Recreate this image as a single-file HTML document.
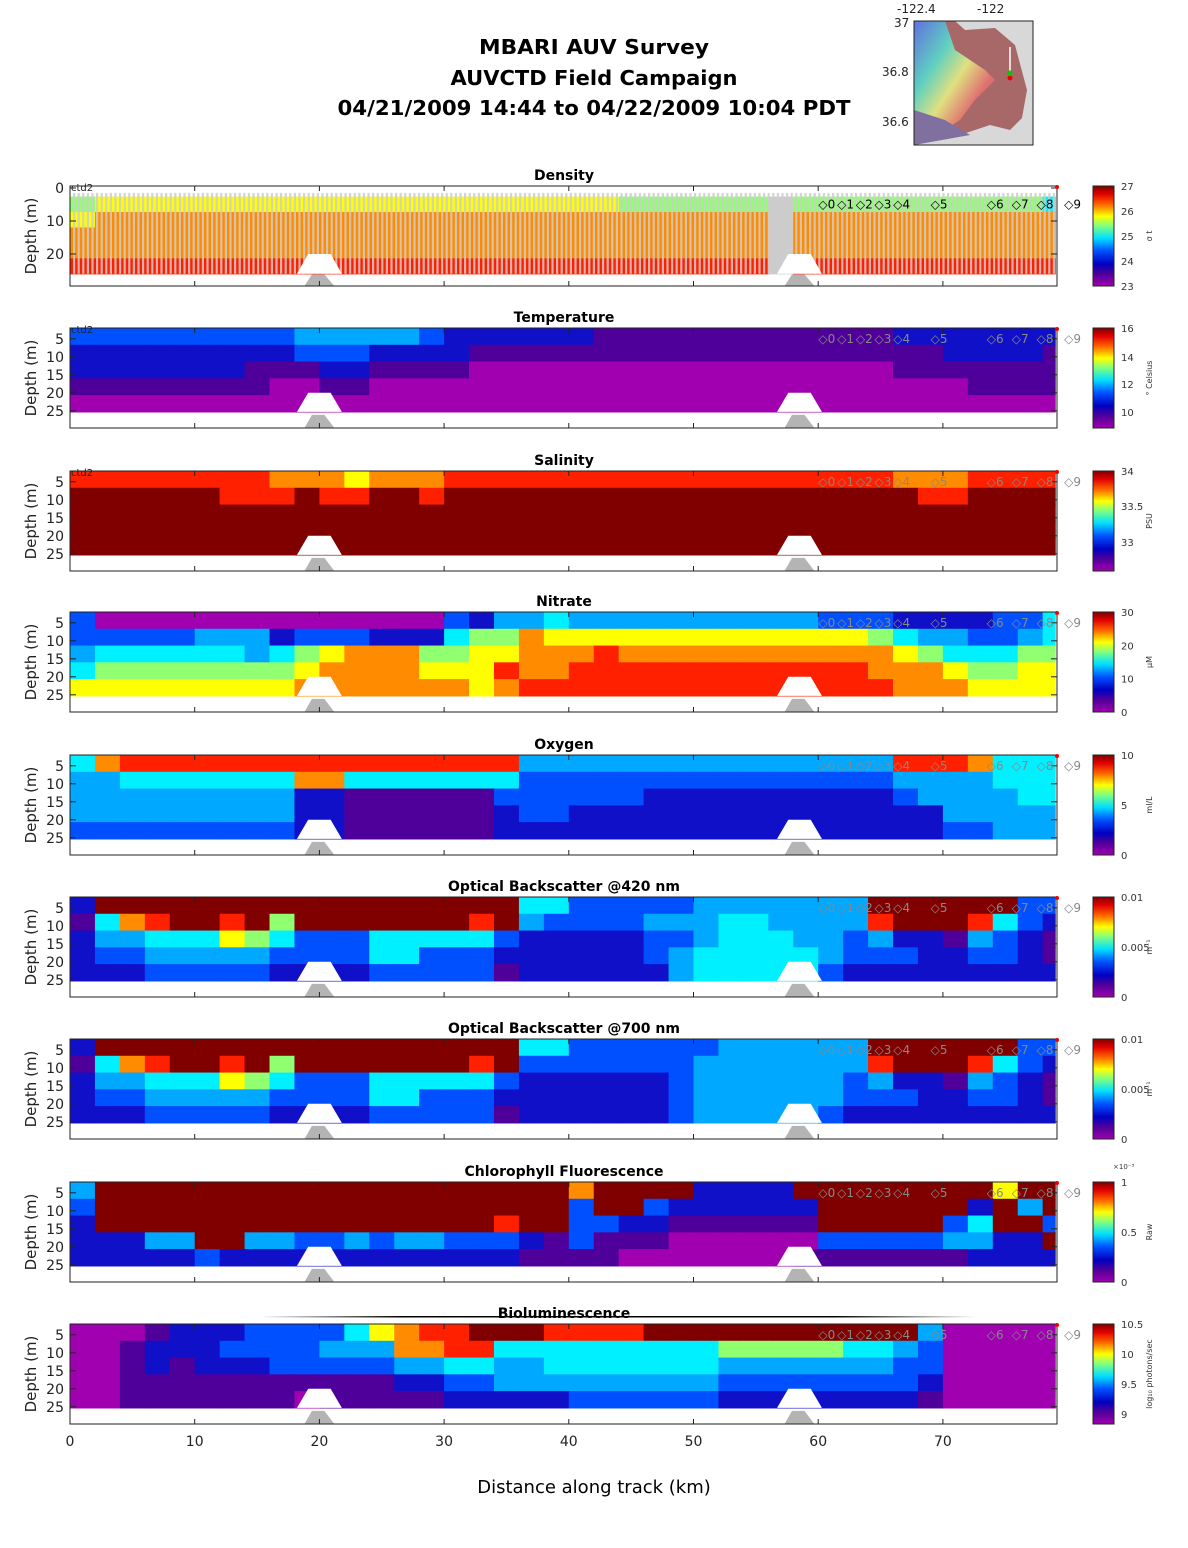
<!DOCTYPE html>
<html><head><meta charset="utf-8"><style>
html,body{margin:0;padding:0;background:#fff}
svg{display:block;font-family:"DejaVu Sans","Liberation Sans",sans-serif}
</style></head><body>
<svg id="s" width="1188" height="1548" viewBox="0 0 1188 1548" xmlns="http://www.w3.org/2000/svg">
<defs>
<linearGradient id="cbar" x1="0" y1="1" x2="0" y2="0">
<stop offset="0" stop-color="#a000b0"/><stop offset="0.12" stop-color="#50009a"/><stop offset="0.22" stop-color="#0000c0"/><stop offset="0.35" stop-color="#0050ff"/><stop offset="0.48" stop-color="#00e0ff"/><stop offset="0.6" stop-color="#80ff80"/><stop offset="0.7" stop-color="#ffff00"/><stop offset="0.82" stop-color="#ff6000"/><stop offset="0.92" stop-color="#e00000"/><stop offset="1" stop-color="#800000"/>
</linearGradient>
<linearGradient id="mapg" x1="0" y1="0" x2="1" y2="1">
<stop offset="0" stop-color="#6070e0"/><stop offset="0.3" stop-color="#60d0c0"/><stop offset="0.5" stop-color="#e0e080"/><stop offset="0.7" stop-color="#e07070"/><stop offset="1" stop-color="#a06060"/>
</linearGradient>
<linearGradient id="topline" x1="0" x2="1"><stop offset="0" stop-color="#fff"/><stop offset="0.2" stop-color="#000"/><stop offset="0.8" stop-color="#000"/><stop offset="1" stop-color="#fff"/></linearGradient>
</defs>
<g font-weight="bold" font-size="20" text-anchor="middle" fill="#000">
<text x="594" y="54" textLength="230" lengthAdjust="spacingAndGlyphs">MBARI AUV Survey</text>
<text x="594" y="85" textLength="287" lengthAdjust="spacingAndGlyphs">AUVCTD Field Campaign</text>
<text x="594" y="115" textLength="513" lengthAdjust="spacingAndGlyphs">04/21/2009 14:44  to 04/22/2009 10:04 PDT</text>
</g>
<g>
<rect x="914" y="21" width="119" height="124" fill="#d8d8d8"/>
<path d="M914 21 L955 21 L965 30 L995 28 L1015 45 L1027 90 L1022 118 L1010 130 L990 125 L960 135 L914 145 Z" fill="#a86868"/>
<path d="M914 21 L945 21 L955 50 L985 70 L995 80 L975 100 L960 120 L930 140 L914 145 Z" fill="url(#mapg)"/>
<path d="M914 110 L945 120 L970 135 L914 145 Z" fill="#8070a0"/>
<rect x="914" y="21" width="119" height="124" fill="none" stroke="#222" stroke-width="1"/>
<line x1="1010" y1="47" x2="1010" y2="78" stroke="#fff" stroke-width="1.5"/>
<circle cx="1010" cy="73" r="2.5" fill="#0c0"/><circle cx="1010" cy="78" r="2.5" fill="#e00"/>
<g font-size="12" fill="#222">
<text x="897" y="13">-122.4</text><text x="977" y="13">-122</text>
<text x="894" y="27">37</text><text x="882" y="76">36.8</text><text x="882" y="126">36.6</text>
</g>
</g>
<g id="panels"></g>
<g id="xaxis"></g>
<text x="594" y="1493" font-size="18" text-anchor="middle">Distance along track (km)</text>
</svg>
<script>
// ---- data: levels 0..9, 'a' = darkest red, 'g' = gray (no data); each char = 2 km, rows top->bottom
const colsKm = 2;
const densityRows = ["6777777777777777777777666666g66666666665","7888888888888888888888888888g88888888888","8888888888888888888888888888g88888888888","8888888888888888888888888888g88888888888","9999999999999999999999999999g99999999999"];
const temperatureRows = ["3333333334444432222221111111111112222222","2222222223332222111111111111111111122221","2222222111221111000000000000000001111111","1111111100110000000000000000000000001111","0000000000000000000000000000000000000000"];
const salinityRows = ["9999999988878889999999999999999998889999","aaaaaa999a99aa9aaaaaaaaaaaaaaaaaaa99aaaa","aaaaaaaaaaaaaaaaaaaaaaaaaaaaaaaaaaaaaaaa","aaaaaaaaaaaaaaaaaaaaaaaaaaaaaaaaaaaaaaaa","aaaaaaaaaaaaaaaaaaaaaaaaaaaaaaaaaaaaaaaa"];
const nitrateRows = ["3000000000000003244544444444443332222335","3333344423332225668777777777777765443345","4555555456788866778889888888888887655566","5666666667888877798899999999999988876677","7777777778888888789999999999999998887777"];
const oxygenRows = ["5899999999999999994444444444444449998555","4455555558855555553333333333333334444555","4444444442211111133333322222222223444455","4444444442211111123322222222222222244444","3333333332211111122222222222222222233444"];
const obs420Rows = ["2aaaaaaaaaaaaaaaaa55333334444444aaaaaa33","1589aa9a6aaaaaaa9a433334445544449aaa9532","2445557653335555532222233455544342214321","2334444433335533322222234555554333223321","2223333322223333312222224555553222222222"];
const obs700Rows = ["2aaaaaaaaaaaaaaaaa55333333444444aaaaaa33","1589aa9a6aaaaaaa9a333333344444449aaa9532","2445557653335555532222223444444342214321","2334444433335533322222223444444333223321","2223333322223333312222223444443222222222"];
const chlRows = ["4aaaaaaaaaaaaaaaaaaa8aaaa2222aaaaaaaa7aa","3aaaaaaaaaaaaaaaaaaa3aa3222222aaaaaa2a4a","2aaaaaaaaaaaaaaaa9aa3322111111aaaaa35aa3","22244aa44334344333213111000000333334422a","2222232222222222221111000000011111112222"];
const biolumRows = ["0001222333357899aaa9999aaaaaaaaaaa400000","0012223333444889955555555566666554300000","0012122233333445544555555544444443300000","0011111111111223344444444433333333200000","0011111110111112222233333322222222100000"];
const stationLabels = ["0","1","2","3","4","5","6","7","8","9"];
const stationKm = [60.5,62,63.5,65,66.5,69.5,74,76,78,80.2];
const bathyKm = [20, 58.5];
const xTicks = [0,10,20,30,40,50,60,70];
const densityTicks = [0,10,20];
const depthTicks = [5,10,15,20,25];
const cbDensity = ["27","26","25","24","23"];
const cbTemp = ["16","14","12","10"];
const cbSal = ["34","33.5","33"];
const cbNit = ["30","20","10","0"];
const cbOxy = ["10","5","0"];
const cbObs = ["0.01","0.005","0"];
const cbChl = ["1","0.5","0"];
const cbBio = ["10.5","10","9.5","9"];

const palette = {"0":"#a000b0","1":"#50009a","2":"#1010c8","3":"#0050ff","4":"#00a8ff","5":"#00f0ff","6":"#90ff70","7":"#ffff00","8":"#ff8c00","9":"#ff2000","a":"#800000","g":"#cccccc"};
const NS="http://www.w3.org/2000/svg";
const X0=70, X1=1057, KMPX=12.47;
const xs = km => X0 + km*KMPX;
function el(tag, attrs, parent){const e=document.createElementNS(NS,tag);for(const k in attrs)e.setAttribute(k,attrs[k]);if(parent)parent.appendChild(e);return e;}

const panels = [
 {name:"density",title:"Density",top:186,rows:densityRows,density:true,cb:cbDensity,cbPos:[0,0.25,0.5,0.75,1],unit:"σ t",ctd:true,stColor:"#000"},
 {name:"temperature",title:"Temperature",top:328,rows:temperatureRows,cb:cbTemp,cbPos:[0,0.29,0.56,0.84],unit:"° Celsius",ctd:true},
 {name:"salinity",title:"Salinity",top:471,rows:salinityRows,cb:cbSal,cbPos:[0,0.35,0.71],unit:"PSU",ctd:true},
 {name:"nitrate",title:"Nitrate",top:612,rows:nitrateRows,cb:cbNit,cbPos:[0,0.333,0.667,1],unit:"μM"},
 {name:"oxygen",title:"Oxygen",top:755,rows:oxygenRows,cb:cbOxy,cbPos:[0,0.5,1],unit:"ml/L"},
 {name:"backscatter-420",title:"Optical Backscatter @420 nm",top:897,rows:obs420Rows,cb:cbObs,cbPos:[0,0.5,1],unit:"m⁻¹"},
 {name:"backscatter-700",title:"Optical Backscatter @700 nm",top:1039,rows:obs700Rows,cb:cbObs,cbPos:[0,0.5,1],unit:"m⁻¹"},
 {name:"chlorophyll",title:"Chlorophyll Fluorescence",top:1182,rows:chlRows,cb:cbChl,cbPos:[0,0.5,1],unit:"Raw",exp:true},
 {name:"bioluminescence",title:"Bioluminescence",top:1324,rows:biolumRows,cb:cbBio,cbPos:[0,0.3,0.6,0.9],unit:"log₁₀ photons/sec",bio:true}
];
const H=100;
const root=document.getElementById('panels');
panels.forEach(p=>{
  const g=el('g',{},root);
  
  
  const ys = p.density ? (d=>p.top+2+d*3.3) : (d=>p.top+(d-2)*3.6);
  const dTop = p.density?2.6:2, dBot = p.density?26:25.3;
  const nR=p.rows.length, rowH=(dBot-dTop)/nR;
  p.rows.forEach((r,ri)=>{
    for(let c=0;c<r.length;c++){
      const k0=c*colsKm, k1=Math.min((c+1)*colsKm,79);
      if(k0>=79) break;
      const cell=el('rect',{x:xs(k0),y:ys(dTop+ri*rowH),width:xs(k1)-xs(k0)+0.6,height:ys(dTop+(ri+1)*rowH)-ys(dTop+ri*rowH)+0.6,fill:palette[r[c]]},g);
      
      
    }
  });
  if(p.density){
    for(let x=X0+3;x<xs(79);x+=4.6){
      const ln=el('rect',{x:x,y:ys(1.5),width:2.2,height:ys(dBot)-ys(1.5),fill:"#cccccc",opacity:0.85},g);
      
      
    }
  }
  bathyKm.forEach(b=>{
    const yb=p.top+H, yPeak=ys(20), yG=ys(25.3);
    const w=el('path',{d:`M${xs(b-1.8)} ${ys(dBot)} L${xs(b-0.9)} ${yPeak} L${xs(b+0.9)} ${yPeak} L${xs(b+1.8)} ${ys(dBot)} Z`,fill:"#fff"},g);
    
    
    const gr=el('path',{d:`M${xs(b-1.2)} ${yb} L${xs(b-0.6)} ${yG+3} L${xs(b+0.4)} ${yG+3} L${xs(b+1.2)} ${yb} Z`,fill:"#b4b4b4"},g);
    
    
  });
  const box=el('rect',{x:X0,y:p.top,width:X1-X0,height:H,fill:"none",stroke:"#222","stroke-width":1},g);
  
  
  (p.density?densityTicks:depthTicks).forEach(d=>{
    const y=ys(d);
    el('line',{x1:X0,y1:y,x2:X0+6,y2:y,stroke:"#222"},g);
    el('line',{x1:X1,y1:y,x2:X1-6,y2:y,stroke:"#222"},g);
    const t=el('text',{x:X0-6,y:y+5,"font-size":14,"text-anchor":"end",fill:"#222"},g);
    t.textContent=d;
    
    
  });
  xTicks.forEach(k=>{
    el('line',{x1:xs(k),y1:p.top,x2:xs(k),y2:p.top+5,stroke:"#222"},g);
    el('line',{x1:xs(k),y1:p.top+H,x2:xs(k),y2:p.top+H-5,stroke:"#222"},g);
  });
  const yl=el('text',{x:0,y:0,"font-size":15,"text-anchor":"middle",transform:`translate(36 ${p.top+H/2}) rotate(-90)`,fill:"#222"},g);
  yl.textContent="Depth (m)";
  
  
  const tt=el('text',{x:564,y:p.top-6,"font-size":14,"font-weight":"bold","text-anchor":"middle"},g);
  tt.textContent=p.title;
  
  
  if(p.ctd){const c=el('text',{x:X0+1,y:p.top+5,"font-size":10,fill:"#222"},g);c.textContent="ctd2";
    
    }
  if(p.bio){const l=el('rect',{x:260,y:p.top-8,width:716,height:1.5,fill:"url(#topline)"},g);
    
    }
  stationLabels.forEach((s,i)=>{
    const t=el('text',{x:xs(stationKm[i])-6,y:ys(5)+4,"font-size":12,fill:p.stColor||"#888"},g);
    t.textContent="◇"+s;
    
    
  });
  el('circle',{cx:X1,cy:p.top+1,r:2,fill:"#e00"},g);
  const cb=el('rect',{x:1093,y:p.top,width:21,height:H,fill:"url(#cbar)",stroke:"#222","stroke-width":1},g);
  
  
  p.cb.forEach((lab,i)=>{
    const t=el('text',{x:1121,y:p.top+p.cbPos[i]*H+4,"font-size":10,fill:"#333"},g);
    t.textContent=lab;
    
    
  });
  const u=el('text',{x:0,y:0,"font-size":8,"text-anchor":"middle",fill:"#333",transform:`translate(1152 ${p.top+H/2}) rotate(-90)`},g);
  u.textContent=p.unit;
  
  
  if(p.exp){const e=el('text',{x:1113,y:p.top-13,"font-size":7,fill:"#333"},g);e.textContent="×10⁻³";
    
    }
});
const xa=document.getElementById('xaxis');
xTicks.forEach(k=>{
  const t=el('text',{x:xs(k),y:1446,"font-size":14,"text-anchor":"middle",fill:"#222"},xa);
  t.textContent=k;
  
  
});
</script>
</body></html>
